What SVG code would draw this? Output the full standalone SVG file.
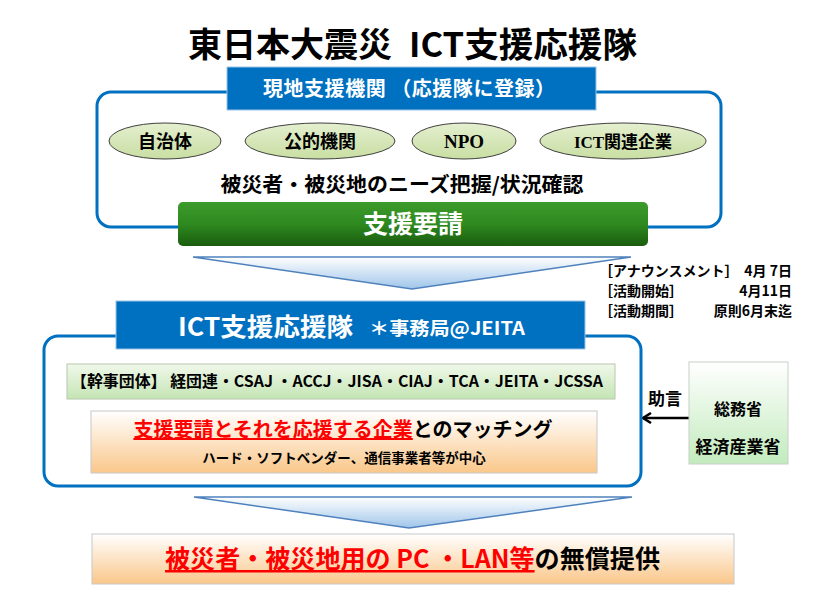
<svg xmlns="http://www.w3.org/2000/svg" width="826" height="609" viewBox="0 0 826 609">
<style>
.t{font-family:"Noto Sans CJK JP","Noto Sans",sans-serif;font-weight:bold}
.s{font-family:"Liberation Serif","Noto Sans CJK JP",serif;font-weight:bold}
.w{fill:#fff}
.k{fill:#000}
.ol{fill:none;stroke:#0070C0;stroke-width:3}
.hd{fill:#0070C0;stroke:#9dc3e6;stroke-width:1}
.el{fill:url(#gEl);stroke:#404040;stroke-width:1}
.chev{fill:url(#gChev);stroke:#4f81bd;stroke-width:1.5}
</style>
<defs>
<linearGradient id="gEl" x1="0" y1="0" x2="0" y2="1"><stop offset="0" stop-color="#e4efcf"/><stop offset="1" stop-color="#c9deA3"/></linearGradient>
<linearGradient id="gGreen" x1="0" y1="0" x2="0" y2="1"><stop offset="0" stop-color="#3d9a2c"/><stop offset="0.5" stop-color="#2e8a1f"/><stop offset="1" stop-color="#1a5c0e"/></linearGradient>
<linearGradient id="gChev" x1="0" y1="0" x2="0" y2="1"><stop offset="0" stop-color="#ffffff"/><stop offset="1" stop-color="#9fc5ea"/></linearGradient>
<linearGradient id="gBar" x1="0" y1="0" x2="0" y2="1"><stop offset="0" stop-color="#f0f8ea"/><stop offset="1" stop-color="#c4e5b4"/></linearGradient>
<linearGradient id="gOr" x1="0" y1="0" x2="0" y2="1"><stop offset="0" stop-color="#ffffff"/><stop offset="1" stop-color="#fac78a"/></linearGradient>
<linearGradient id="gGov" x1="0" y1="0" x2="0" y2="1"><stop offset="0" stop-color="#ffffff"/><stop offset="1" stop-color="#c2ebbd"/></linearGradient>
<marker id="arr" viewBox="0 0 12 12" refX="10" refY="6" markerWidth="12" markerHeight="12" markerUnits="userSpaceOnUse" orient="auto">
<polyline points="2,1 10,6 2,11" fill="none" stroke="#000" stroke-width="2.5"/>
</marker>
</defs>
<rect width="826" height="609" fill="#fff"/>

<g id="title" class="t k" font-size="34">
<text x="188" y="57" textLength="204" lengthAdjust="spacingAndGlyphs">東日本大震災</text>
<text x="409" y="57" textLength="228" lengthAdjust="spacingAndGlyphs">ICT支援応援隊</text>
</g>

<g id="local">
<rect class="ol" x="97" y="92" width="624" height="135" rx="14"/>
<rect class="hd" x="227" y="67" width="369" height="43"/>
<text class="t w" x="409" y="96" font-size="20" text-anchor="middle" textLength="292">現地支援機関 （応援隊に登録）</text>
</g>
<g id="jichitai"><ellipse class="el" cx="165" cy="141" rx="56" ry="18"/><text class="t k" x="165" y="148" font-size="18" text-anchor="middle">自治体</text></g>
<g id="koteki"><ellipse class="el" cx="320" cy="141" rx="75" ry="18"/><text class="t k" x="320" y="148" font-size="18" text-anchor="middle">公的機関</text></g>
<g id="npo"><ellipse class="el" cx="464" cy="141" rx="52" ry="18"/><text class="s k" x="464" y="148" font-size="19" text-anchor="middle">NPO</text></g>
<g id="ict"><ellipse class="el" cx="623" cy="141" rx="83" ry="18"/><text class="s k" x="623" y="148" font-size="17" text-anchor="middle">ICT関連企業</text></g>
<g id="needs"><text class="t k" x="402" y="192" font-size="20" text-anchor="middle" textLength="363" lengthAdjust="spacingAndGlyphs">被災者・被災地のニーズ把握/状況確認</text></g>
<g id="request">
<rect x="178" y="202" width="470" height="44" rx="5" fill="url(#gGreen)"/>
<text class="t w" x="413" y="233" font-size="25" text-anchor="middle">支援要請</text>
</g>

<g id="connectors">
<polygon class="chev" points="193,257 631,257 412,289"/>
<polygon class="chev" points="194,497 632,497 409,528"/>
<line x1="689" y1="418" x2="643" y2="418" stroke="#000" stroke-width="2.5" marker-end="url(#arr)"/>
<text class="t k" x="665" y="405" font-size="17" text-anchor="middle">助言</text>
</g>

<g id="schedule" class="t k" font-size="14">
<text x="599" y="276">［アナウンスメント］</text><text x="792" y="276" text-anchor="end">4月 7日</text>
<text x="599" y="296">［活動開始］</text><text x="792" y="296" text-anchor="end">4月11日</text>
<text x="599" y="316">［活動期間］</text><text x="792" y="316" text-anchor="end">原則6月末迄</text>
</g>

<g id="team">
<rect class="ol" x="44" y="336" width="597" height="150" rx="14"/>
<rect class="hd" x="116" y="301" width="469" height="48"/>
<text class="t w" x="178" y="336" font-size="25" textLength="175" lengthAdjust="spacingAndGlyphs">ICT支援応援隊</text>
<text class="t w" x="369" y="335" font-size="18" textLength="156" lengthAdjust="spacingAndGlyphs">＊事務局@JEITA</text>
</g>
<g id="kanji">
<rect x="67" y="364" width="548" height="35" fill="url(#gBar)" stroke="#b8c8b0" stroke-width="1"/>
<text class="t k" x="71" y="387" font-size="16" textLength="532" lengthAdjust="spacingAndGlyphs">【幹事団体】 経団連・CSAJ ・ACCJ・JISA・CIAJ・TCA・JEITA・JCSSA</text>
</g>
<g id="matching">
<rect x="91" y="411" width="506" height="62" fill="url(#gOr)" stroke="#c8c8c8" stroke-width="1"/>
<text class="t" x="343" y="437" font-size="20" text-anchor="middle" font-weight="normal"><tspan fill="#ff0000" text-decoration="underline">支援要請とそれを応援する企業</tspan><tspan fill="#000">とのマッチング</tspan></text>
<text class="t k" x="344" y="463" font-size="13.5" text-anchor="middle">ハード・ソフトベンダー、通信事業者等が中心</text>
</g>
<g id="gov">
<rect x="689" y="362" width="99" height="102" fill="url(#gGov)" stroke="#c8d0c8" stroke-width="1"/>
<text class="t k" x="738" y="415" font-size="16" text-anchor="middle">総務省</text>
<text class="t k" x="738" y="453" font-size="17" text-anchor="middle">経済産業省</text>
</g>
<g id="result">
<rect x="92" y="534" width="642" height="50" fill="url(#gOr)" stroke="#c8c8c8" stroke-width="1"/>
<text class="t" x="165" y="568" font-size="25" textLength="495" lengthAdjust="spacingAndGlyphs"><tspan fill="#ff0000" text-decoration="underline">被災者・被災地用の PC ・LAN等</tspan><tspan fill="#000">の無償提供</tspan></text>
</g>
</svg>
